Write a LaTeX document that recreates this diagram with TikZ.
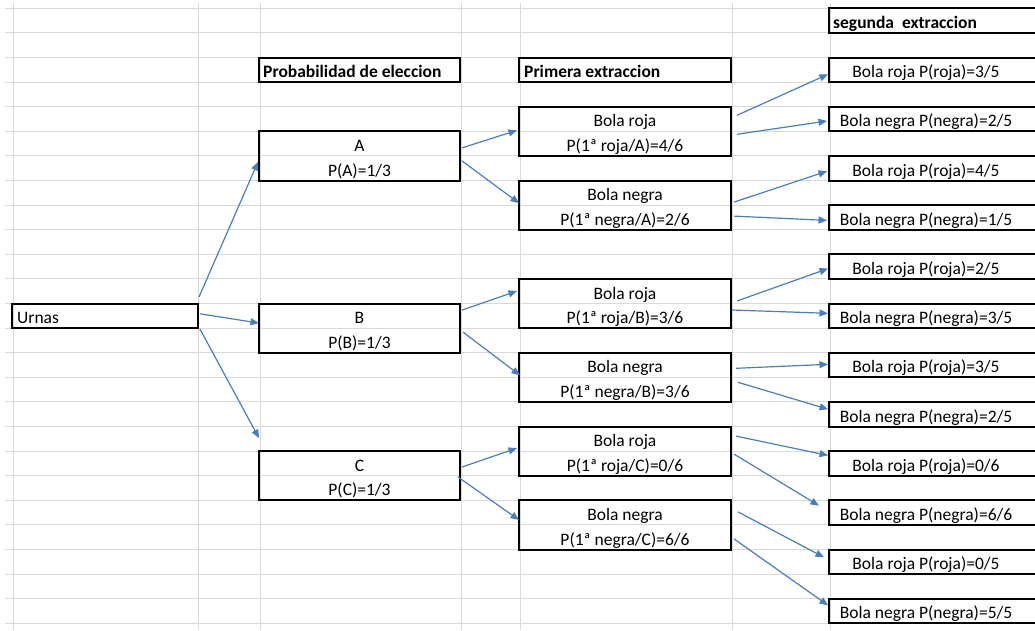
\documentclass[tikz,border=0pt]{standalone}
\usepackage{fontspec}
\setmainfont{Carlito}
\usetikzlibrary{arrows.meta}
\definecolor{gridc}{HTML}{D9D9D9}
\definecolor{arrc}{HTML}{4A7EBB}
\begin{document}
\begin{tikzpicture}[x=1pt,y=-1pt,
  gridline/.style={draw=gridc, line width=1pt},
  cell/.style={draw=black, line width=2pt, inner sep=0pt},
  twocell/.style={cell, minimum height=49.2pt},
  onecell/.style={cell, minimum height=24.6pt},
  lbl/.style={anchor=base, inner sep=0pt, font=\fontsize{17.5}{20}\selectfont},
  hdr/.style={anchor=base west, inner sep=0pt, font=\fontsize{17.5}{20}\selectfont\bfseries},
  arr/.style={draw=arrc, line width=1.2pt, -{Triangle[length=8.5pt,width=7pt]}}]
\useasboundingbox (0,0) rectangle (1035,630);
\clip (0,0) rectangle (1035,630);
% spreadsheet grid
\foreach \k in {0,...,25} \draw[gridline] (5,{8.3+24.6*\k}) -- (1035,{8.3+24.6*\k});
\foreach \x in {13,198,260,461,520,732,830} \draw[gridline] (\x,3) -- (\x,630);

% headers
\node[onecell, minimum width=201pt] (hP) at (359.5,69.8) {};
\node[hdr] (thP) at (263,77.6) {Probabilidad de eleccion};
\node[onecell, minimum width=212pt] (hE) at (625,69.8) {};
\node[hdr] (thE) at (524,77.6) {Primera extraccion};
\node[onecell, minimum width=216pt] (hS) at (937,20.6) {};
\node[hdr] (thS) at (833,28.4) {segunda\ \ extraccion};

% root
\node[onecell, minimum width=186pt] (U) at (105,315.8) {};
\node[lbl, anchor=base west] (tU) at (17,323.6) {Urnas};

% urns
\node[twocell, minimum width=201pt] (A) at (359.5,155.9) {};
\node[lbl] (tA1) at (359.5,151.4) {A};
\node[lbl] (tA2) at (359.5,176.0) {P(A)=1/3};
\node[twocell, minimum width=201pt] (B) at (359.5,328.1) {};
\node[lbl] (tB1) at (359.5,323.6) {B};
\node[lbl] (tB2) at (359.5,348.2) {P(B)=1/3};
\node[twocell, minimum width=201pt] (C) at (359.5,475.7) {};
\node[lbl] (tC1) at (359.5,471.2) {C};
\node[lbl] (tC2) at (359.5,495.8) {P(C)=1/3};

% first draw
\node[twocell, minimum width=212pt] (rA) at (625,131.3) {};
\node[lbl] (trA1) at (625,126.8) {Bola roja};
\node[lbl] (trA2) at (625,151.4) {P(1ª roja/A)=4/6};
\node[twocell, minimum width=212pt] (nA) at (625,205.1) {};
\node[lbl] (tnA1) at (625,200.6) {Bola negra};
\node[lbl] (tnA2) at (625,225.2) {P(1ª negra/A)=2/6};
\node[twocell, minimum width=212pt] (rB) at (625,303.5) {};
\node[lbl] (trB1) at (625,299.0) {Bola roja};
\node[lbl] (trB2) at (625,323.6) {P(1ª roja/B)=3/6};
\node[twocell, minimum width=212pt] (nB) at (625,377.3) {};
\node[lbl] (tnB1) at (625,372.8) {Bola negra};
\node[lbl] (tnB2) at (625,397.4) {P(1ª negra/B)=3/6};
\node[twocell, minimum width=212pt] (rC) at (625,451.1) {};
\node[lbl] (trC1) at (625,446.6) {Bola roja};
\node[lbl] (trC2) at (625,471.2) {P(1ª roja/C)=0/6};
\node[twocell, minimum width=212pt] (nC) at (625,524.9) {};
\node[lbl] (tnC1) at (625,520.4) {Bola negra};
\node[lbl] (tnC2) at (625,545.0) {P(1ª negra/C)=6/6};

% second draw
\foreach \i/\t in {1/{Bola roja P(roja)=3/5},2/{Bola negra P(negra)=2/5},
                   3/{Bola roja P(roja)=4/5},4/{Bola negra P(negra)=1/5},
                   5/{Bola roja P(roja)=2/5},6/{Bola negra P(negra)=3/5},
                   7/{Bola roja P(roja)=3/5},8/{Bola negra P(negra)=2/5},
                   9/{Bola roja P(roja)=0/6},10/{Bola negra P(negra)=6/6},
                   11/{Bola roja P(roja)=0/5},12/{Bola negra P(negra)=5/5}}{
  \node[onecell, minimum width=216pt] (s\i) at (937,{8.3+49.2*\i+12.3}) {};
  \node[lbl] (ts\i) at (926,{8.3+49.2*\i+20.1}) {\t};
}

% connectors
\draw[arr] ([shift={(0,-5.5)}]U.north east) -- ([shift={(0,6)}]A.west);
\draw[arr] ([shift={(1,-2)}]U.east) -- ([shift={(1,-5)}]B.west);
\draw[arr] ([shift={(1,0)}]U.south east) -- ([shift={(1,-12)}]C.north west);

\draw[arr] ([shift={(1,-8)}]A.east) -- ([shift={(-1,-1)}]rA.west);
\draw[arr] ([shift={(1,5)}]A.east) -- ([shift={(1,-2)}]nA.west);
\draw[arr] ([shift={(1,-18)}]B.east) -- ([shift={(-1,-12.5)}]rB.west);
\draw[arr] ([shift={(2,4)}]B.east) -- ([shift={(2,-2)}]nB.west);
\draw[arr] ([shift={(1,-8.7)}]C.east) -- ([shift={(-1,-3)}]rC.west);
\draw[arr] ([shift={(-3,1.3)}]C.east) -- ([shift={(1,-5)}]nC.west);

\draw[arr] ([shift={(5,-16)}]rA.east) -- ([shift={(0,4.5)}]s1.west);
\draw[arr] ([shift={(5,3)}]rA.east) -- ([shift={(-1,2)}]s2.west);
\draw[arr] ([shift={(2,-3)}]nA.east) -- ([shift={(-1,3)}]s3.west);
\draw[arr] ([shift={(2,11)}]nA.east) -- ([shift={(-1,3)}]s4.west);
\draw[arr] ([shift={(5,-2.5)}]rB.east) -- ([shift={(0,2)}]s5.west);
\draw[arr] ([shift={(0,6.5)}]rB.east) -- ([shift={(0,-2.5)}]s6.west);
\draw[arr] ([shift={(4,-9)}]nB.east) -- ([shift={(0,-0.7)}]s7.west);
\draw[arr] ([shift={(6,5)}]nB.east) -- ([shift={(0,-5)}]s8.west);
\draw[arr] ([shift={(4,-15)}]rC.east) -- ([shift={(0,-8)}]s9.west);
\draw[arr] ([shift={(2,3)}]rC.east) -- ([shift={(-9,-7)}]s10.west);
\draw[arr] ([shift={(6,-13)}]nC.east) -- ([shift={(-4,-4.5)}]s11.west);
\draw[arr] ([shift={(2,14)}]nC.east) -- ([shift={(0,-5.7)}]s12.west);
\end{tikzpicture}
\end{document}
